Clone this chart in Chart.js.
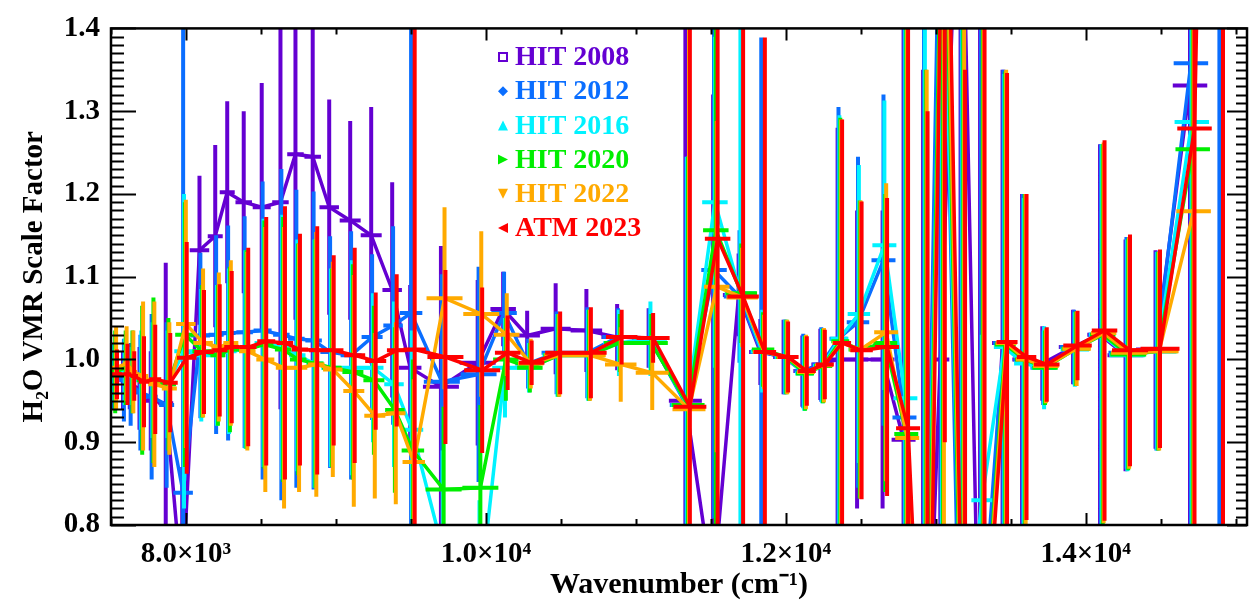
<!DOCTYPE html>
<html>
<head>
<meta charset="utf-8">
<script src="https://cdn.jsdelivr.net/npm/chart.js@4"></script>
<style>
  html, body { margin: 0; padding: 0; background: #fff; }
</style>
</head>
<body>
<canvas id="grafico" width="1249" height="600"></canvas>
<script>
// Centros dos intervalos espectrais (cm-1) e meia-largura de cada um
const wavenumber = [7540, 7610, 7655, 7720, 7795, 7895, 8005, 8120, 8225, 8305, 8415, 8535, 8660, 8760, 8875, 8985, 9125, 9265, 9405, 9525,
  9730, 9975, 10145, 10305, 10495, 10700, 10905, 11115, 11360, 11545, 11715, 11860, 12015, 12140, 12260, 12375, 12505, 12675, 12815, 12945,
  13060, 13195, 13325, 13475, 13605, 13740, 13945, 14125, 14295, 14495, 14725, 14915];
const halfWidth = [35, 25, 25, 35, 40, 50, 65, 65, 50, 50, 55, 60, 55, 55, 55, 65, 70, 70, 65, 75,
  120, 120, 85, 85, 100, 105, 105, 110, 110, 85, 105, 75, 70, 60, 60, 60, 75, 80, 80, 65,
  60, 65, 70, 70, 65, 85, 95, 85, 120, 130, 115, 100];

// Fatores de escala de cada versão (null = sem dado)
const hit2008 = [0.985, 0.975, 0.97, 0.965, 0.95, 0.947, 0.72, 1.132, 1.149, 1.202, 1.190, 1.184, 1.190, 1.248, 1.245, 1.184, 1.168, 1.150, 1.084, 0.990,
  0.967, 0.996, 1.061, 1.029, 1.037, 1.035, 1.027, 1.026, 0.950, 0.72, 1.078, 1.009, 1.003, 0.986, 0.994, 1.000, 1.000, 1.000, 0.903, 0.45,
  1.000, 1.7, 0.55, 1.020, 1.000, 0.995, 1.015, 1.030, 1.005, 1.012, 1.331, null];
const erro2008 = [0.03, 0.035, 0.03, 0.05, 0.06, 0.17, 0.15, 0.09, 0.11, 0.11, 0.11, 0.15, 0.25, 0.2, 0.25, 0.13, 0.12, 0.155, 0.13, 0.1,
  0.17, 0.1, 0.045, 0.03, 0.055, 0.05, 0.04, 0.036, 0.6, 0.6, 0.05, 0.04, 0.045, 0.043, 0.043, 0.28, 0.18, 0.18, 0.6, 0.9,
  0.6, 0.9, 0.9, 0.33, 0.2, 0.045, 0.045, 0.23, 0.14, 0.12, 0.6, null];

const hit2012 = [0.98, 0.975, 0.97, 0.96, 0.955, 0.945, 0.839, 1.029, 1.030, 1.032, 1.033, 1.035, 1.030, 1.025, 1.023, 1.009, 1.005, 1.027, 1.041, 1.056,
  0.973, 0.982, 1.056, 0.995, 1.008, 1.008, 1.027, 1.026, 0.945, 1.108, 1.076, 1.009, 1.003, 0.986, 0.994, 1.025, 1.045, 1.12, 0.93, 0.5,
  1.7, 0.5, 0.65, 1.02, 1.0, 0.99, 1.015, 1.03, 1.008, 1.01, 1.358, 3.2];
const erro2012 = [0.04, 0.05, 0.05, 0.07, 0.1, 0.1, 0.6, 0.1, 0.12, 0.13, 0.14, 0.18, 0.2, 0.18, 0.18, 0.14, 0.15, 0.1, 0.12, 0.6,
  0.13, 0.13, 0.05, 0.03, 0.05, 0.055, 0.035, 0.035, 0.3, 0.3, 0.08, 0.38, 0.045, 0.045, 0.045, 0.28, 0.2, 0.2, 0.6, 0.9,
  0.9, 0.9, 0.9, 0.33, 0.2, 0.045, 0.045, 0.23, 0.14, 0.12, 0.6, 2.6];

const hit2016 = [0.985, 0.985, 0.98, 0.975, 0.975, 0.97, 1.01, 1.005, 1.005, 1.01, 1.012, 1.02, 1.015, 1.005, 0.995, 0.99, 0.99, 0.99, 0.97, 0.915,
  0.77, 0.71, 0.99, 0.99, 1.005, 1.005, 1.02, 1.025, 0.945, 1.19, 1.08, 1.01, 1.003, 0.983, 0.992, 1.025, 1.055, 1.138, 0.953, 0.5,
  1.6, 0.6, 0.83, 1.015, 0.995, 0.99, 1.012, 1.03, 1.005, 1.01, 1.287, null];
const erro2016 = [0.035, 0.04, 0.035, 0.06, 0.07, 0.065, 0.19, 0.08, 0.085, 0.1, 0.12, 0.15, 0.16, 0.14, 0.15, 0.12, 0.13, 0.09, 0.1, 0.12,
  0.12, 0.12, 0.06, 0.03, 0.05, 0.055, 0.04, 0.045, 0.3, 0.2, 0.6, 0.05, 0.045, 0.045, 0.045, 0.27, 0.18, 0.175, 0.6, 0.9,
  0.9, 0.9, 0.2, 0.33, 0.2, 0.05, 0.045, 0.23, 0.14, 0.12, 0.6, null];

const hit2020 = [0.985, 0.99, 0.985, 0.975, 0.975, 0.97, 1.03, 1.01, 1.005, 1.012, 1.012, 1.018, 1.012, 1.0, 0.995, 0.99, 0.985, 0.975, 0.939, 0.89,
  0.843, 0.845, 1.0, 0.99, 1.005, 1.005, 1.02, 1.02, 0.945, 1.156, 1.08, 1.012, 1.003, 0.983, 0.992, 1.022, 1.012, 1.02, 0.91, 0.45,
  1.7, 0.5, 0.63, 1.018, 1.0, 0.99, 1.013, 1.03, 1.006, 1.01, 1.254, null];
const erro2020 = [0.05, 0.045, 0.05, 0.09, 0.1, 0.08, 0.16, 0.08, 0.085, 0.1, 0.12, 0.15, 0.16, 0.14, 0.15, 0.12, 0.13, 0.09, 0.1, 0.11,
  0.1, 0.1, 0.05, 0.03, 0.05, 0.055, 0.035, 0.035, 0.3, 0.6, 0.06, 0.045, 0.045, 0.045, 0.045, 0.27, 0.18, 0.18, 0.6, 0.9,
  0.9, 0.9, 0.9, 0.33, 0.2, 0.045, 0.045, 0.23, 0.14, 0.12, 0.6, null];

const hit2022 = [0.99, 0.995, 0.985, 0.98, 0.97, 0.965, 1.043, 1.02, 1.015, 1.02, 1.01, 1.0, 0.99, 0.99, 0.994, 0.988, 0.962, 0.932, 0.935, 0.876,
  1.074, 1.055, 1.03, 0.995, 1.005, 1.005, 0.994, 0.984, 0.94, 1.088, 1.075, 1.009, 1.003, 0.985, 0.993, 1.02, 1.012, 1.033, 0.905, 0.45,
  1.7, 0.5, 0.63, 1.02, 1.0, 0.992, 1.013, 1.032, 1.008, 1.01, 1.179, null];
const erro2022 = [0.05, 0.045, 0.05, 0.09, 0.1, 0.08, 0.15, 0.09, 0.09, 0.1, 0.12, 0.16, 0.17, 0.15, 0.16, 0.13, 0.14, 0.1, 0.11, 0.1,
  0.11, 0.1, 0.05, 0.03, 0.05, 0.055, 0.045, 0.045, 0.6, 0.2, 0.06, 0.045, 0.045, 0.045, 0.045, 0.27, 0.18, 0.18, 0.6, 0.9,
  0.9, 0.9, 0.9, 0.33, 0.2, 0.045, 0.045, 0.23, 0.14, 0.12, 0.6, null];

const atm2023 = [0.982, 0.982, 0.980, 0.973, 0.976, 0.972, 1.002, 1.009, 1.011, 1.015, 1.015, 1.022, 1.020, 1.012, 1.011, 1.011, 1.005, 0.998, 1.011, 1.012,
  1.003, 0.987, 1.008, 0.996, 1.008, 1.008, 1.027, 1.026, 0.943, 1.146, 1.076, 1.009, 1.003, 0.986, 0.994, 1.020, 1.011, 1.015, 0.917, 0.4,
  1.8, 0.45, 0.62, 1.021, 1.003, 0.994, 1.017, 1.035, 1.011, 1.013, 1.279, 3.0];
const erro2023 = [0.03, 0.037, 0.03, 0.055, 0.066, 0.06, 0.14, 0.075, 0.08, 0.092, 0.12, 0.15, 0.165, 0.14, 0.15, 0.115, 0.13, 0.083, 0.092, 0.6,
  0.105, 0.1, 0.045, 0.027, 0.05, 0.055, 0.033, 0.03, 0.6, 0.6, 0.6, 0.38, 0.043, 0.042, 0.042, 0.27, 0.18, 0.18, 0.6, 0.9,
  0.9, 0.9, 0.9, 0.325, 0.197, 0.045, 0.042, 0.23, 0.14, 0.12, 0.6, 2.6];

// Eixos
const xTicks = [8000, 10000, 12000, 14000];
const xTickLabels = ['8.0×10³', '1.0×10⁴', '1.2×10⁴', '1.4×10⁴'];
const yTicks = [0.8, 0.9, 1.0, 1.1, 1.2, 1.3, 1.4];
const yTickLabels = ['0.8', '0.9', '1.0', '1.1', '1.2', '1.3', '1.4'];

const series = [
  { nome: 'HIT 2008', valores: hit2008, erros: erro2008, cor: '#6400d2', simbolo: 'quadrado' },
  { nome: 'HIT 2012', valores: hit2012, erros: erro2012, cor: '#0a6eff', simbolo: 'losango' },
  { nome: 'HIT 2016', valores: hit2016, erros: erro2016, cor: '#00f2ff', simbolo: 'cima' },
  { nome: 'HIT 2020', valores: hit2020, erros: erro2020, cor: '#00ee00', simbolo: 'direita' },
  { nome: 'HIT 2022', valores: hit2022, erros: erro2022, cor: '#ffaa00', simbolo: 'baixo' },
  { nome: 'ATM 2023', valores: atm2023, erros: erro2023, cor: '#ff0000', simbolo: 'esquerda' }
];

const passoSerie = 6; // pequeno deslocamento em x entre as versões

function montarDatasets() {
  const ds = [];
  series.forEach((s, k) => {
    const desloc = (k - 5) * passoSerie;
    const pontos = [], barrasV = [], barrasH = [];
    wavenumber.forEach((w, i) => {
      const v = s.valores[i], e = s.erros[i];
      if (v == null) return;
      const x = w + desloc;
      pontos.push({ x: x, y: v });
      barrasV.push({ x: x, y: v - e }, { x: x, y: v + e }, { x: x, y: null });
      barrasH.push({ x: x - halfWidth[i], y: v }, { x: x + halfWidth[i], y: v }, { x: x, y: null });
    });
    const ordem = (5 - k) * 3;
    const base = {
      borderColor: s.cor, backgroundColor: s.cor, pointRadius: 0, pointHoverRadius: 0,
      showLine: true, spanGaps: false, fill: false, tension: 0
    };
    ds.push(Object.assign({}, base, { label: s.nome, data: pontos, borderWidth: 3.5, order: ordem }));
    ds.push(Object.assign({}, base, { label: s.nome + ' erro', data: barrasV, borderWidth: 4, order: ordem + 1 }));
    ds.push(Object.assign({}, base, { label: s.nome + ' largura', data: barrasH, borderWidth: 4, order: ordem + 1 }));
  });
  return ds;
}

// Moldura com marcas para dentro nos quatro lados
const moldura = {
  id: 'moldura',
  afterDatasetsDraw(chart) {
    const { ctx, chartArea: a, scales: { x, y } } = chart;
    ctx.save();
    ctx.strokeStyle = '#000';
    ctx.lineWidth = 2;
    ctx.beginPath();
    for (let w = Math.ceil(x.min / 500) * 500; w <= x.max; w += 500) {
      const px = Math.round(x.getPixelForValue(w)) + 0.5;
      const len = w % 2000 === 0 ? 12 : 6;
      ctx.moveTo(px, a.bottom); ctx.lineTo(px, a.bottom - len);
      ctx.moveTo(px, a.top); ctx.lineTo(px, a.top + len);
    }
    for (let k = 80; k <= 140; k++) {
      const py = Math.round(y.getPixelForValue(k / 100)) + 0.5;
      const major = k % 10 === 0;
      ctx.moveTo(a.left, py); ctx.lineTo(a.left + (major ? 25 : 13), py);
      ctx.moveTo(a.right, py); ctx.lineTo(a.right - (major ? 20 : 11), py);
    }
    ctx.stroke();
    ctx.lineWidth = 2.5;
    ctx.strokeRect(a.left, a.top, a.right - a.left, a.bottom - a.top);
    ctx.restore();
  }
};

// Legenda desenhada dentro do gráfico
function desenharSimbolo(ctx, tipo, cx, cy, r) {
  ctx.beginPath();
  if (tipo === 'quadrado') {
    ctx.lineWidth = 2;
    ctx.strokeRect(cx - r + 1, cy - r + 1, 2 * r - 2, 2 * r - 2);
    return;
  }
  if (tipo === 'losango') {
    ctx.moveTo(cx, cy - r); ctx.lineTo(cx + r, cy); ctx.lineTo(cx, cy + r); ctx.lineTo(cx - r, cy);
  } else if (tipo === 'cima') {
    ctx.moveTo(cx, cy - r); ctx.lineTo(cx + r, cy + r); ctx.lineTo(cx - r, cy + r);
  } else if (tipo === 'baixo') {
    ctx.moveTo(cx - r, cy - r); ctx.lineTo(cx + r, cy - r); ctx.lineTo(cx, cy + r);
  } else if (tipo === 'direita') {
    ctx.moveTo(cx - r, cy - r); ctx.lineTo(cx + r, cy); ctx.lineTo(cx - r, cy + r);
  } else {
    ctx.moveTo(cx + r, cy - r); ctx.lineTo(cx - r, cy); ctx.lineTo(cx + r, cy + r);
  }
  ctx.closePath();
  ctx.fill();
}

const legenda = {
  id: 'legenda',
  afterDraw(chart) {
    const ctx = chart.ctx;
    ctx.save();
    ctx.font = "bold 28px 'Liberation Serif', serif";
    ctx.textBaseline = 'middle';
    ctx.textAlign = 'left';
    series.forEach((s, i) => {
      const cy = 57 + i * 34.2;
      ctx.fillStyle = s.cor;
      ctx.strokeStyle = s.cor;
      desenharSimbolo(ctx, s.simbolo, 503, cy, 5);
      ctx.fillText(s.nome, 515, cy + 1);
    });
    ctx.restore();
  }
};

Chart.defaults.font.family = "'Liberation Serif', serif";
Chart.defaults.font.weight = 'bold';
Chart.defaults.color = '#000';

new Chart(document.getElementById('grafico').getContext('2d'), {
  type: 'scatter',
  data: { datasets: montarDatasets() },
  options: {
    responsive: false,
    animation: false,
    events: [],
    layout: { padding: { top: 14, right: 2, left: 0, bottom: 0 } },
    plugins: { legend: { display: false }, tooltip: { enabled: false } },
    scales: {
      x: {
        type: 'linear', min: 7500, max: 15075,
        grid: { display: false, drawTicks: false },
        border: { display: false },
        afterBuildTicks: s => { s.ticks = xTicks.map(v => ({ value: v })); },
        afterFit: s => { s.height = 75; },
        ticks: {
          autoSkip: false, maxRotation: 0, padding: 12, color: '#000',
          font: { size: 29, weight: 'bold' },
          callback: (v, i) => xTickLabels[i]
        },
        title: {
          display: true, text: 'Wavenumber (cm⁻¹)', color: '#000',
          font: { size: 30, weight: 'bold', lineHeight: 1 }, padding: { top: 0, bottom: 0 }
        }
      },
      y: {
        type: 'linear', min: 0.8, max: 1.4,
        grid: { display: false, drawTicks: false },
        border: { display: false },
        afterBuildTicks: s => { s.ticks = yTicks.map(v => ({ value: v })); },
        afterFit: s => { s.width = 111; },
        ticks: {
          autoSkip: false, padding: 11, color: '#000',
          font: { size: 29, weight: 'bold' },
          callback: (v, i) => yTickLabels[i]
        },
        title: {
          display: true, text: 'H₂O VMR Scale Factor', color: '#000',
          font: { size: 29, weight: 'bold', lineHeight: 1 }, padding: { top: 20, bottom: 0 }
        }
      }
    }
  },
  plugins: [moldura, legenda]
});
</script>
</body>
</html>
